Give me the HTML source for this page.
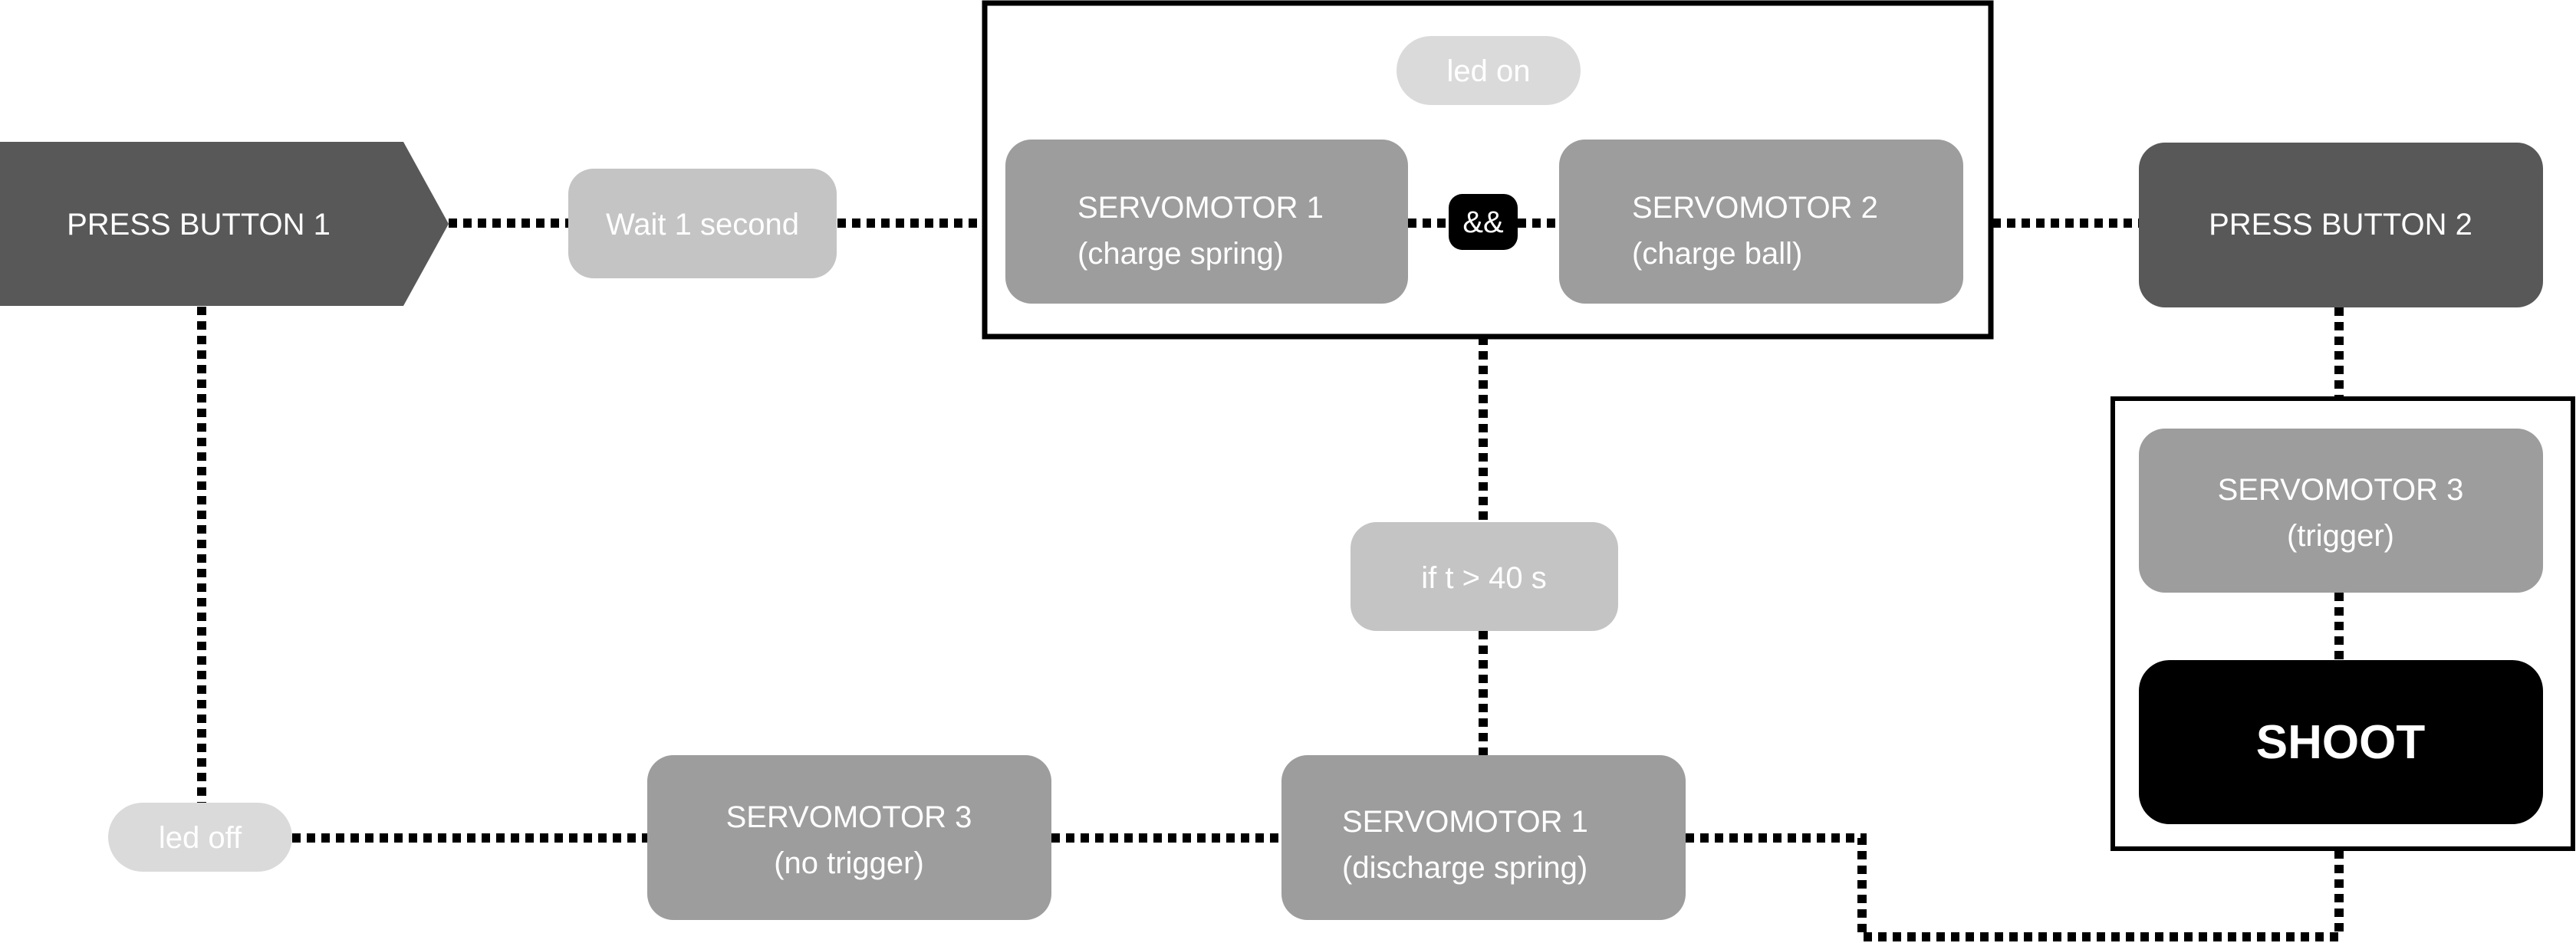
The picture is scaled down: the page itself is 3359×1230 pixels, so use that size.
<!DOCTYPE html>
<html><head><meta charset="utf-8"><style>
html,body{margin:0;padding:0;background:#fff;}
svg{display:block;}
text{font-family:"Liberation Sans",sans-serif;fill:#fff;font-size:40px;}
</style></head><body>
<svg width="3359" height="1230" viewBox="0 0 3359 1230" xmlns="http://www.w3.org/2000/svg">
<g fill="none" stroke="#000" stroke-width="12" stroke-dasharray="11 8">
<line x1="585" y1="291" x2="741" y2="291"/>
<line x1="1092" y1="291" x2="1281" y2="291"/>
<line x1="1836" y1="291" x2="1889" y2="291"/>
<line x1="1979" y1="291" x2="2033" y2="291"/>
<line x1="2598" y1="291" x2="2789" y2="291"/>
<line x1="263" y1="400" x2="263" y2="1047"/>
<line x1="1934" y1="439" x2="1934" y2="681"/>
<line x1="1934" y1="823" x2="1934" y2="985"/>
<line x1="381" y1="1093" x2="844" y2="1093"/>
<line x1="1371" y1="1093" x2="1671" y2="1093"/>
<polyline points="2198,1093 2428,1093 2428,1222 3050,1222 3050,1107"/>
<line x1="3050" y1="401" x2="3050" y2="520"/>
<line x1="3050" y1="773" x2="3050" y2="861"/>
</g>
<rect x="1284" y="4" width="1312" height="435" fill="none" stroke="#000" stroke-width="7"/>
<rect x="2755" y="520" width="600" height="587" fill="none" stroke="#000" stroke-width="6"/>
<polygon points="0,185 526,185 585,292 526,399 0,399" fill="#585858"/>
<text x="259" y="306" text-anchor="middle">PRESS BUTTON 1</text>
<rect x="741" y="220" width="350" height="143" rx="33" fill="#c4c4c4"/>
<text x="916" y="306" text-anchor="middle">Wait 1 second</text>
<rect x="1821" y="47" width="240" height="90" rx="45" fill="#dadada"/>
<text x="1941" y="106" text-anchor="middle">led on</text>
<rect x="1311" y="182" width="525" height="214" rx="34" fill="#9d9d9d"/>
<text x="1405" y="284">SERVOMOTOR 1</text>
<text x="1405" y="344">(charge spring)</text>
<rect x="1889" y="253" width="90" height="73" rx="18" fill="#000"/>
<text x="1934" y="303" text-anchor="middle">&amp;&amp;</text>
<rect x="2033" y="182" width="527" height="214" rx="34" fill="#9d9d9d"/>
<text x="2128" y="284">SERVOMOTOR 2</text>
<text x="2128" y="344">(charge ball)</text>
<rect x="2789" y="186" width="527" height="215" rx="34" fill="#585858"/>
<text x="3052" y="306" text-anchor="middle">PRESS BUTTON 2</text>
<rect x="2789" y="559" width="527" height="214" rx="34" fill="#9d9d9d"/>
<text x="3052" y="652" text-anchor="middle">SERVOMOTOR 3</text>
<text x="3052" y="712" text-anchor="middle">(trigger)</text>
<rect x="2789" y="861" width="527" height="214" rx="40" fill="#000"/>
<text x="3052" y="989" text-anchor="middle" style="font-size:62px;font-weight:bold">SHOOT</text>
<rect x="1761" y="681" width="349" height="142" rx="34" fill="#c4c4c4"/>
<text x="1935" y="767" text-anchor="middle">if t &gt; 40 s</text>
<rect x="1671" y="985" width="527" height="215" rx="34" fill="#9d9d9d"/>
<text x="1750" y="1085">SERVOMOTOR 1</text>
<text x="1750" y="1145">(discharge spring)</text>
<rect x="844" y="985" width="527" height="215" rx="34" fill="#9d9d9d"/>
<text x="1107" y="1079" text-anchor="middle">SERVOMOTOR 3</text>
<text x="1107" y="1139" text-anchor="middle">(no trigger)</text>
<rect x="141" y="1047" width="240" height="90" rx="45" fill="#dadada"/>
<text x="261" y="1106" text-anchor="middle">led off</text>
</svg>
</body></html>
